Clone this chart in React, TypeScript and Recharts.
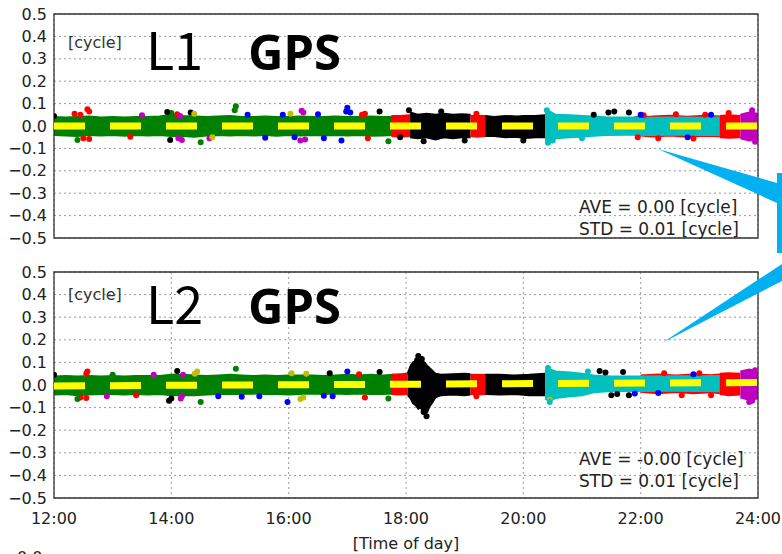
import React from "react";
import { ComposedChart, Area, Line, Scatter, XAxis, YAxis, CartesianGrid, ReferenceArea } from "recharts";

// [hour, low, high] envelope of the residual band
type Band = [number, number, number][];
// [hour, value] single residual points sticking out of the band
type Pts = [number, number][];

const hourTicks = [12, 14, 16, 18, 20, 22, 24];
const cycleTicks = [0.5, 0.4, 0.3, 0.2, 0.1, 0, -0.1, -0.2, -0.3, -0.4, -0.5];

const GREEN = "#008000";
const RED = "#ff0000";
const BLACK = "#000000";
const CYAN = "#00bfbf";
const MAGENTA = "#bf00bf";
const BLUE = "#0000ff";
const OLIVE = "#bfbf00";

// ---------- L1 ----------
const l1Green: Band = [
  [12, -0.04, 0.04], [12.2, -0.042, 0.038], [12.4, -0.045, 0.04], [12.6, -0.04, 0.042],
  [12.8, -0.042, 0.038], [13.0, -0.04, 0.04], [13.2, -0.043, 0.038], [13.4, -0.04, 0.04],
  [13.6, -0.042, 0.04], [13.8, -0.04, 0.042], [14.0, -0.045, 0.05], [14.2, -0.045, 0.045],
  [14.4, -0.048, 0.042], [14.6, -0.042, 0.04], [14.8, -0.04, 0.042], [15.0, -0.042, 0.045],
  [15.2, -0.04, 0.04], [15.4, -0.042, 0.04], [15.6, -0.04, 0.042], [15.8, -0.043, 0.04],
  [16.0, -0.04, 0.04], [16.2, -0.042, 0.042], [16.4, -0.04, 0.04], [16.6, -0.042, 0.04],
  [16.8, -0.04, 0.042], [17.0, -0.042, 0.04], [17.2, -0.04, 0.04], [17.4, -0.043, 0.042],
  [17.6, -0.042, 0.04], [17.8, -0.04, 0.04],
];
const l1Red1: Band = [[17.75, -0.045, 0.045], [17.9, -0.048, 0.045], [18.07, -0.045, 0.048]];
const l1Black1: Band = [
  [18.07, -0.05, 0.06], [18.2, -0.055, 0.05], [18.35, -0.05, 0.055], [18.5, -0.06, 0.05],
  [18.65, -0.05, 0.055], [18.8, -0.055, 0.05], [18.95, -0.05, 0.052], [19.1, -0.05, 0.05],
];
const l1Red2: Band = [[19.1, -0.045, 0.045], [19.22, -0.048, 0.045], [19.35, -0.045, 0.045]];
const l1Black2: Band = [
  [19.35, -0.045, 0.045], [19.5, -0.045, 0.04], [19.7, -0.05, 0.045], [19.9, -0.048, 0.042],
  [20.0, -0.055, 0.045], [20.2, -0.05, 0.045], [20.37, -0.05, 0.048],
];
const l1RedEdge: Band = [[21.9, -0.04, 0.04], [22.2, -0.047, 0.042], [22.5, -0.042, 0.046], [22.8, -0.048, 0.041], [23.1, -0.043, 0.046], [23.35, -0.046, 0.042]];
const l1Cyan: Band = [
  [20.37, -0.065, 0.06], [20.45, -0.07, 0.065], [20.55, -0.055, 0.05], [20.8, -0.05, 0.048],
  [21.0, -0.048, 0.045], [21.2, -0.044, 0.042], [21.4, -0.04, 0.039], [21.8, -0.039, 0.038],
  [22.2, -0.04, 0.037], [22.6, -0.039, 0.038], [23.0, -0.04, 0.037], [23.35, -0.04, 0.038],
];
const l1Red3: Band = [[23.35, -0.05, 0.045], [23.5, -0.052, 0.048], [23.7, -0.05, 0.045]];
const l1Magenta: Band = [[23.7, -0.055, 0.05], [23.85, -0.065, 0.06], [24, -0.06, 0.055]];

const l1RedPts: Pts = [[12.35, 0.055], [12.45, 0.05], [12.57, 0.075], [12.6, 0.065], [12.5, -0.055], [12.6, -0.058], [13.3, -0.048], [14.1, 0.052], [17.3, 0.055], [17.35, -0.055], [17.25, 0.05], [19.2, 0.055], [22.3, -0.055], [22.6, 0.052], [22.9, -0.056], [23.1, 0.05], [23.5, 0.058], [22.05, 0.048], [21.95, -0.05]];
const l1GreenPts: Pts = [[12.4, -0.062], [14.5, -0.072], [15.1, 0.088], [15.08, 0.07], [17.7, -0.068], [14.0, 0.058]];
const l1BlackPts: Pts = [[12.0, 0.045], [13.93, 0.062], [13.98, -0.062], [14.33, 0.06], [17.55, 0.065], [17.9, -0.05], [18.05, 0.07], [18.6, 0.065], [18.3, -0.068], [19.0, -0.065], [20.0, -0.065], [21.45, 0.06], [21.55, 0.065], [21.8, 0.06], [21.2, 0.05]];
const l1MagentaPts: Pts = [[14.12, -0.055], [14.18, -0.062], [14.15, 0.045], [14.65, -0.055], [16.22, 0.068], [16.25, 0.06], [16.2, -0.065], [16.28, -0.06], [23.9, 0.07], [23.95, -0.07], [13.5, 0.048]];
const l1BluePts: Pts = [[15.3, 0.05], [15.6, -0.052], [15.9, 0.05], [16.5, 0.052], [16.6, -0.055], [16.9, -0.065], [17.0, 0.082], [16.98, 0.065], [17.05, 0.06], [16.1, -0.05], [22.0, 0.05], [22.8, -0.05], [23.2, 0.05]];
const l1OlivePts: Pts = [[14.39, 0.055], [16.03, 0.055], [14.7, -0.05]];
const l1CyanPts: Pts = [[20.4, 0.07], [20.42, -0.075], [20.5, -0.065], [21.0, -0.055]];
const l1Ave: Pts = [[12, 0], [24, 0]];

// ---------- L2 ----------
const l2Green: Band = [
  [12, -0.042, 0.038], [12.2, -0.04, 0.04], [12.4, -0.045, 0.038], [12.6, -0.042, 0.04],
  [12.8, -0.04, 0.038], [13.0, -0.04, 0.04], [13.2, -0.042, 0.038], [13.4, -0.04, 0.04],
  [13.6, -0.042, 0.04], [13.8, -0.04, 0.04], [14.0, -0.045, 0.045], [14.2, -0.045, 0.045],
  [14.4, -0.045, 0.042], [14.6, -0.042, 0.04], [14.8, -0.04, 0.042], [15.0, -0.04, 0.045],
  [15.2, -0.04, 0.042], [15.4, -0.038, 0.04], [15.6, -0.04, 0.042], [15.8, -0.04, 0.04],
  [16.0, -0.042, 0.042], [16.2, -0.04, 0.042], [16.4, -0.038, 0.042], [16.6, -0.04, 0.04],
  [16.8, -0.038, 0.042], [17.0, -0.04, 0.045], [17.2, -0.038, 0.042], [17.4, -0.04, 0.045],
  [17.6, -0.04, 0.042], [17.8, -0.038, 0.045],
];
const l2Red1: Band = [[17.75, -0.04, 0.045], [17.9, -0.042, 0.048], [18.03, -0.04, 0.05]];
const l2Black1: Band = [
  [18.03, -0.045, 0.05], [18.08, -0.06, 0.085], [18.12, -0.08, 0.1], [18.17, -0.09, 0.105],
  [18.21, -0.105, 0.12], [18.25, -0.1, 0.11], [18.29, -0.115, 0.105], [18.33, -0.125, 0.095],
  [18.36, -0.12, 0.085], [18.4, -0.095, 0.075], [18.44, -0.08, 0.065], [18.5, -0.055, 0.05],
  [18.6, -0.045, 0.045], [18.8, -0.042, 0.048], [19.0, -0.045, 0.05], [19.1, -0.042, 0.048],
];
const l2Red2: Band = [[19.1, -0.04, 0.045], [19.22, -0.042, 0.045], [19.35, -0.04, 0.045]];
const l2Black2: Band = [[19.35, -0.04, 0.045], [19.6, -0.042, 0.045], [19.85, -0.04, 0.042], [20.1, -0.045, 0.045], [20.37, -0.045, 0.05]];
const l2RedEdge: Band = [[22.0, -0.03, 0.042], [22.3, -0.036, 0.046], [22.6, -0.031, 0.042], [22.9, -0.037, 0.047], [23.2, -0.032, 0.043], [23.35, -0.036, 0.046]];
const l2Cyan: Band = [
  [20.37, -0.06, 0.065], [20.45, -0.07, 0.07], [20.55, -0.058, 0.06], [20.8, -0.05, 0.055],
  [21.0, -0.045, 0.05], [21.2, -0.032, 0.042], [21.5, -0.027, 0.038], [22.0, -0.026, 0.038],
  [22.5, -0.025, 0.039], [23.0, -0.026, 0.039], [23.35, -0.028, 0.04],
];
const l2Red3: Band = [[23.35, -0.04, 0.05], [23.5, -0.045, 0.052], [23.7, -0.042, 0.05]];
const l2Magenta: Band = [[23.7, -0.055, 0.06], [23.85, -0.065, 0.068], [24, -0.06, 0.06]];

const l2RedPts: Pts = [[12.57, 0.06], [12.55, 0.05], [12.45, -0.055], [12.55, -0.058], [13.4, -0.045], [17.3, -0.055], [17.2, 0.048], [22.4, 0.052], [22.7, -0.045], [23.0, 0.052], [23.2, -0.045], [19.2, -0.05]];
const l2GreenPts: Pts = [[12.4, -0.062], [14.5, -0.075], [15.1, 0.072], [17.7, -0.06], [13.0, 0.045]];
const l2BlackPts: Pts = [[12.0, 0.045], [14.1, 0.062], [13.96, -0.07], [14.0, -0.06], [16.7, 0.052], [17.55, 0.058], [18.21, 0.128], [18.19, 0.11], [18.35, -0.138], [18.3, -0.12], [18.27, 0.115], [21.3, 0.062], [21.4, 0.055], [21.7, 0.058], [21.5, -0.045], [21.8, -0.045], [21.6, -0.04]];
const l2MagentaPts: Pts = [[14.16, -0.06], [14.18, -0.05], [14.2, 0.045], [13.7, 0.045], [12.9, -0.05], [23.9, -0.07], [23.95, 0.065], [23.85, -0.075]];
const l2BluePts: Pts = [[14.8, -0.05], [15.2, -0.052], [15.5, -0.05], [15.98, -0.075], [16.6, -0.048], [17.0, 0.06], [16.75, -0.05], [22.3, -0.035], [21.9, -0.038], [22.9, 0.048]];
const l2OlivePts: Pts = [[14.44, 0.06], [14.4, 0.05], [16.05, 0.052], [16.2, -0.062], [16.25, -0.055], [16.3, 0.05], [20.45, -0.065]];
const l2CyanPts: Pts = [[20.42, 0.075], [20.45, -0.075], [21.1, 0.06]];
const l2Ave: Pts = [[12, -0.004], [24, 0.011]];

const l1Bands = [
  { color: GREEN, band: l1Green }, { color: RED, band: l1Red1 }, { color: BLACK, band: l1Black1 },
  { color: RED, band: l1Red2 }, { color: BLACK, band: l1Black2 }, { color: RED, band: l1RedEdge },
  { color: CYAN, band: l1Cyan }, { color: RED, band: l1Red3 }, { color: MAGENTA, band: l1Magenta },
];
const l1Pts = [
  { color: RED, pts: l1RedPts }, { color: GREEN, pts: l1GreenPts }, { color: BLACK, pts: l1BlackPts },
  { color: MAGENTA, pts: l1MagentaPts }, { color: BLUE, pts: l1BluePts }, { color: OLIVE, pts: l1OlivePts },
  { color: CYAN, pts: l1CyanPts },
];
const l2Bands = [
  { color: GREEN, band: l2Green }, { color: RED, band: l2Red1 }, { color: BLACK, band: l2Black1 },
  { color: RED, band: l2Red2 }, { color: BLACK, band: l2Black2 }, { color: RED, band: l2RedEdge },
  { color: CYAN, band: l2Cyan }, { color: RED, band: l2Red3 }, { color: MAGENTA, band: l2Magenta },
];
const l2Pts = [
  { color: RED, pts: l2RedPts }, { color: GREEN, pts: l2GreenPts }, { color: BLACK, pts: l2BlackPts },
  { color: MAGENTA, pts: l2MagentaPts }, { color: BLUE, pts: l2BluePts }, { color: OLIVE, pts: l2OlivePts },
  { color: CYAN, pts: l2CyanPts },
];

const fmtCycle = (v: number) => (v < 0 ? "\u2212" + Math.abs(v).toFixed(1) : v.toFixed(1));
const fmtHour = (v: number) => `${v}:00`;

function Panel({ bands, pts, ave, height, margin, showTime }: any) {
  return (
    <ComposedChart width={782} height={height} margin={margin}>
      <CartesianGrid stroke="#9a9a9a" strokeDasharray="2 3" />
      <XAxis
        dataKey="t"
        type="number"
        domain={[12, 24]}
        ticks={hourTicks}
        allowDataOverflow
        height={showTime ? 56 : 1}
        axisLine={false}
        tickLine={false}
        tickMargin={9}
        tick={showTime ? { fontSize: 16, fill: "#222" } : false}
        tickFormatter={fmtHour}
        interval={0}
      />
      <YAxis
        type="number"
        domain={[-0.5, 0.5]}
        ticks={cycleTicks}
        allowDataOverflow
        width={54}
        axisLine={false}
        tickLine={false}
        tickMargin={1}
        interval={0}
        tick={{ fontSize: 16, fill: "#222" }}
        tickFormatter={fmtCycle}
      />
      {/* small inward tick marks on the left and right frame */}
      <YAxis yAxisId="inL" orientation="left" mirror type="number" domain={[-0.5, 0.5]} ticks={cycleTicks} interval={0} axisLine={false} tick={false} tickSize={4} stroke="#333" />
      <YAxis yAxisId="inR" orientation="right" mirror type="number" domain={[-0.5, 0.5]} ticks={cycleTicks} interval={0} axisLine={false} tick={false} tickSize={4} stroke="#333" />
      {bands.map((b: any, i: number) => (
        <Area
          key={"b" + i}
          data={b.band.map(([t, lo, hi]: number[]) => ({ t, r: [lo, hi] }))}
          dataKey="r"
          type="linear"
          fill={b.color}
          fillOpacity={1}
          stroke={b.color}
          strokeWidth={2}
          dot={false}
          activeDot={false}
          isAnimationActive={false}
        />
      ))}
      {pts.map((g: any, i: number) => (
        <Scatter
          key={"p" + i}
          data={g.pts.map(([t, v]: number[]) => ({ t, v }))}
          dataKey="v"
          fill={g.color}
          shape={(p: any) => <circle cx={p.cx} cy={p.cy} r={3} fill={g.color} />}
          isAnimationActive={false}
        />
      ))}
      <Line
        data={ave.map(([t, v]: number[]) => ({ t, ave: v }))}
        dataKey="ave"
        stroke="#ffff00"
        strokeWidth={7}
        strokeDasharray="31 25"
        dot={false}
        activeDot={false}
        isAnimationActive={false}
      />
      <ReferenceArea x1={12} x2={24} y1={-0.5} y2={0.5} fill="none" stroke="#333" strokeWidth={1.3} />
    </ComposedChart>
  );
}

export default function App() {
  const callout = "#00b0f0";
  return (
    <div
      style={{
        position: "absolute",
        left: 0,
        top: 0,
        width: 782,
        height: 554,
        overflow: "hidden",
        background: "#fff",
        fontFamily: "'DejaVu Sans', sans-serif",
      }}
    >
      <div style={{ position: "absolute", left: 0, top: 0 }}>
        <Panel bands={l1Bands} pts={l1Pts} ave={l1Ave} height={250} margin={{ top: 14, right: 24, bottom: 11, left: 0 }} showTime={false} />
      </div>
      <div style={{ position: "absolute", left: 0, top: 258 }}>
        <Panel bands={l2Bands} pts={l2Pts} ave={l2Ave} height={296} margin={{ top: 14, right: 24, bottom: 0, left: 0 }} showTime />
      </div>
      <svg width={782} height={554} style={{ position: "absolute", left: 0, top: 0, pointerEvents: "none" }}>
        <text x={68} y={48} fontSize={16} fill="#333">[cycle]</text>
        <text x={146} y={70} fontSize={52} fontWeight={400} fontFamily="'Noto Sans CJK JP', 'Noto Sans', sans-serif" fill="#000">L1</text>
        <text x={248} y={70} fontSize={49} fontWeight={700} fontFamily="'Noto Sans', sans-serif" fill="#000">GPS</text>
        <text x={579} y={213} fontSize={17} fill="#222">AVE = 0.00 [cycle]</text>
        <text x={579} y={235} fontSize={17} fill="#222">STD = 0.01 [cycle]</text>

        <text x={68} y={300} fontSize={16} fill="#333">[cycle]</text>
        <text x={146} y={324} fontSize={52} fontWeight={400} fontFamily="'Noto Sans CJK JP', 'Noto Sans', sans-serif" fill="#000">L2</text>
        <text x={248} y={324} fontSize={49} fontWeight={700} fontFamily="'Noto Sans', sans-serif" fill="#000">GPS</text>
        <text x={579} y={465} fontSize={17} fill="#222">AVE = -0.00 [cycle]</text>
        <text x={579} y={487} fontSize={17} fill="#222">STD = 0.01 [cycle]</text>

        <text x={406} y={549} fontSize={16} fill="#222" textAnchor="middle">[Time of day]</text>
        <text x={17} y={563} fontSize={16} fill="#222">0.0</text>

        <rect x={777} y={173} width={10} height={80} fill={callout} />
        <polygon points="658,149 777,183 777,203" fill={callout} />
        <polygon points="662,343 782,264 782,281" fill={callout} />
      </svg>
    </div>
  );
}
